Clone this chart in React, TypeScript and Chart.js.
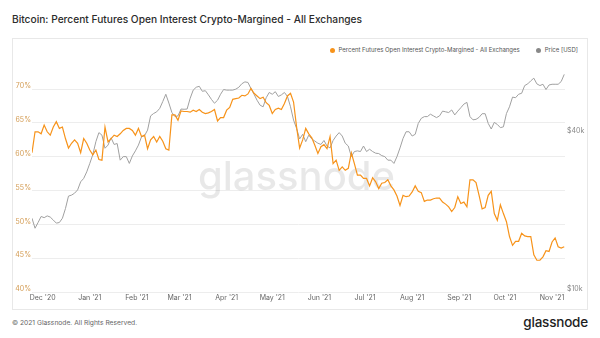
import React, { useEffect, useRef } from "react";
import { Chart, registerables } from "chart.js";

Chart.register(...registerables);

// Sample grid: days relative to Dec 1, 2020; first sample Nov 24, 2020, one sample every 2 days
const startDay = -7;
const stepDays = 2;

const percentCryptoMargined = [
  60.6, 63.7, 63.7, 63.4, 64.7, 63.7, 63.2, 64.4, 65.2, 64.2,
  64.4, 62.7, 61.3, 62.0, 62.5, 62.0, 60.6, 62.7, 62.0, 61.0,
  60.3, 61.0, 59.6, 59.5, 64.4, 62.2, 62.7, 63.2, 63.0, 63.4,
  63.9, 64.2, 64.2, 63.9, 63.2, 64.2, 63.0, 63.2, 61.2, 62.5,
  63.0, 62.2, 63.0, 62.3, 61.2, 61.0, 66.2, 66.2, 65.4, 66.8,
  66.7, 66.7, 66.6, 66.9, 66.7, 67.0, 66.6, 66.4, 66.5, 66.7,
  67.0, 65.3, 65.8, 65.8, 66.9, 67.3, 68.5, 68.6, 68.7, 69.1,
  69.0, 69.3, 70.1, 69.4, 69.0, 68.6, 68.8, 68.0, 67.6, 66.4,
  67.0, 67.2, 67.0, 67.9, 69.0, 69.4, 68.1, 64.4, 61.3, 62.5,
  64.2, 63.4, 62.8, 61.7, 60.5, 61.5, 61.8, 61.2, 63.0, 59.0,
  59.5, 58.0, 58.5, 58.0, 58.3, 60.6, 59.0, 57.3, 57.3, 56.8,
  56.8, 55.7, 56.9, 56.3, 55.3, 56.1, 56.2, 56.6, 55.7, 55.1,
  54.2, 52.8, 54.3, 54.1, 54.2, 54.8, 55.7, 54.9, 54.7, 53.4,
  53.6, 53.6, 53.8, 53.9, 53.9, 53.3, 53.0, 52.6, 51.9, 52.5,
  54.1, 53.1, 53.3, 52.6, 56.6, 56.6, 56.2, 54.3, 52.3, 52.5,
  54.3, 54.9, 51.6, 50.6, 52.9, 51.6, 50.4, 48.2, 46.9, 47.5,
  47.5, 48.7, 48.3, 48.2, 48.2, 45.5, 44.7, 44.7, 45.2, 46.1,
  46.0, 47.4, 48.0, 46.7, 46.5, 46.7,
];

const priceUsd = [
  19100, 17500, 18400, 19400, 19200, 19500, 19300, 18800, 18300, 18400,
  19100, 20800, 23200, 23400, 23800, 24500, 26300, 27100, 28700, 30900,
  33400, 37400, 40500, 39600, 35300, 36300, 38700, 36500, 36800, 31800,
  32800, 32800, 30900, 33000, 34500, 36300, 39000, 39400, 41400, 46900,
  47900, 48600, 50100, 53200, 56700, 52500, 48300, 46600, 46900, 49800,
  49700, 49800, 54700, 58800, 60300, 60800, 58200, 58500, 56400, 54200,
  52400, 53800, 56700, 59100, 58800, 58800, 58800, 59300, 60300, 62200,
  63200, 62900, 59600, 56700, 53800, 51500, 50800, 55000, 57600, 56700,
  58000, 55600, 56400, 57600, 55600, 50800, 45200, 42000, 38300, 39900,
  37400, 39600, 38300, 37600, 36900, 36500, 37800, 36000, 35400, 37800,
  39300, 40500, 39300, 36900, 36000, 32800, 34300, 34500, 34300, 36000,
  34300, 35000, 34300, 33800, 33700, 33100, 32800, 31800, 31800, 30900,
  32800, 35400, 38500, 40800, 40800, 39300, 39900, 43900, 45900, 46600,
  46600, 47600, 46900, 46200, 46900, 48900, 48600, 48300, 49400, 47300,
  48900, 50400, 52000, 52800, 46600, 45300, 45500, 46300, 47800, 47800,
  43900, 41800, 44300, 43500, 42300, 42600, 47900, 50800, 55300, 55000,
  56700, 57200, 61200, 62100, 63800, 65300, 62100, 61200, 61900, 59100,
  61500, 61900, 61900, 61900, 63400, 67500,
];

const monthTickDays = [0, 31, 62, 90, 121, 151, 182, 212, 243, 274, 304, 335];
const monthTickLabels = [
  "Dec '20", "Jan '21", "Feb '21", "Mar '21", "Apr '21", "May '21",
  "Jun '21", "Jul '21", "Aug '21", "Sep '21", "Oct '21", "Nov '21",
];
const percentTicks = [40, 45, 50, 55, 60, 65, 70];
const priceTicks = [10000, 40000];

const seriesNames = [
  "Percent Futures Open Interest Crypto-Margined - All Exchanges",
  "Price [USD]",
];
const ORANGE = "#f7931a";
const GREY = "#a0a0a0";

export default function App() {
  const ref = useRef<HTMLCanvasElement | null>(null);

  useEffect(() => {
    if (!ref.current) return;
    Chart.defaults.font.family = "Inter, 'Noto Sans', sans-serif";
    const watermark = {
      id: "watermark",
      beforeDatasetsDraw(chart: any) {
        const { ctx, chartArea } = chart;
        ctx.save();
        ctx.font = "500 40px Inter";
        ctx.fillStyle = "rgba(0,0,0,0.09)";
        ctx.textAlign = "center";
        ctx.textBaseline = "alphabetic";
        ctx.fillText(
          "glassnode",
          (chartArea.left + chartArea.right) / 2 - 2,
          chartArea.top + 120
        );
        ctx.restore();
      },
    };
    const chart = new Chart(ref.current, {
      type: "line",
      data: {
        datasets: [
          {
            label: seriesNames[0],
            data: percentCryptoMargined.map((v, i) => ({ x: startDay + i * stepDays, y: v })),
            borderColor: ORANGE,
            backgroundColor: ORANGE,
            borderWidth: 1.2,
            pointRadius: 0,
            tension: 0,
            yAxisID: "y",
            order: 0,
          },
          {
            label: seriesNames[1],
            data: priceUsd.map((v, i) => ({ x: startDay + i * stepDays, y: v })),
            borderColor: GREY,
            backgroundColor: GREY,
            borderWidth: 1,
            pointRadius: 0,
            tension: 0,
            yAxisID: "y1",
            order: 1,
          },
        ],
      },
      options: {
        responsive: false,
        animation: false,
        devicePixelRatio: 1,
        layout: { padding: { top: 31, left: 0, right: 0, bottom: 0 } },
        plugins: { legend: { display: false }, tooltip: { enabled: false } },
        scales: {
          x: {
            type: "linear",
            min: -7,
            max: 343.5,
            afterFit: (s: any) => { s.height = 17; },
            afterBuildTicks: (s: any) => { s.ticks = monthTickDays.map((v) => ({ value: v })); },
            ticks: {
              callback: (_v: any, i: number) => monthTickLabels[i],
              font: { size: 7 },
              color: "#666",
              padding: 2,
              maxRotation: 0,
              autoSkip: false,
            },
            grid: { display: false, drawTicks: false },
            border: { display: false },
          },
          y: {
            type: "linear",
            position: "left",
            min: 40,
            max: 72.84,
            afterFit: (s: any) => { s.width = 20; },
            afterBuildTicks: (s: any) => { s.ticks = percentTicks.map((v) => ({ value: v })); },
            ticks: {
              callback: (v: any) => v + "%",
              color: "#d39b52",
              font: { size: 7 },
              padding: 1,
              labelOffset: -3,
            },
            grid: { color: "#ededed", drawTicks: false, lineWidth: 1 },
            border: { display: false },
          },
          y1: {
            type: "logarithmic",
            position: "right",
            min: 10000,
            max: 70150,
            afterFit: (s: any) => { s.width = 22; },
            afterBuildTicks: (s: any) => { s.ticks = priceTicks.map((v) => ({ value: v })); },
            ticks: {
              callback: (v: any) => "$" + Number(v) / 1000 + "k",
              color: "#888",
              font: { size: 7 },
              padding: 2,
              labelOffset: -3,
            },
            grid: { display: false, drawTicks: false },
            border: { display: false },
          },
        },
      },
      plugins: [watermark],
    } as any);
    return () => chart.destroy();
  }, []);

  const font = "Inter, 'Noto Sans', sans-serif";
  return (
    <div style={{ position: "absolute", left: 0, top: 0, width: 600, height: 338, background: "#fff", fontFamily: font, overflow: "hidden" }}>
      <div style={{ position: "absolute", left: 12, top: 12, fontSize: 10.2, fontWeight: 500, color: "#2b2b2b", whiteSpace: "nowrap", lineHeight: "14px" }}>
        Bitcoin: Percent Futures Open Interest Crypto-Margined - All Exchanges
      </div>
      <div style={{ position: "absolute", left: 12, top: 38, width: 576, height: 272, border: "1px solid #e8e8e8", boxSizing: "border-box" }} />
      <div style={{ position: "absolute", right: 22, top: 46, display: "flex", alignItems: "center", fontSize: 6, color: "#555", whiteSpace: "nowrap", lineHeight: "8px" }}>
        <span style={{ width: 5, height: 5, borderRadius: "50%", background: ORANGE, display: "inline-block", marginRight: 4 }} />
        <span>{seriesNames[0]}</span>
        <span style={{ width: 5, height: 5, borderRadius: "50%", background: "#888", display: "inline-block", marginLeft: 16, marginRight: 4 }} />
        <span>{seriesNames[1]}</span>
      </div>
      <canvas ref={ref} width={575} height={270} style={{ position: "absolute", left: 12, top: 39, width: 575, height: 270 }} />
      <div style={{ position: "absolute", left: 12, top: 318, fontSize: 6.7, color: "#666", whiteSpace: "nowrap", lineHeight: "10px" }}>
        © 2021 Glassnode. All Rights Reserved.
      </div>
      <div style={{ position: "absolute", right: 12, top: 313, fontSize: 13.5, fontWeight: 500, color: "#1e1e1e", whiteSpace: "nowrap", lineHeight: "18px", letterSpacing: -0.2 }}>
        glassnode
      </div>
    </div>
  );
}
